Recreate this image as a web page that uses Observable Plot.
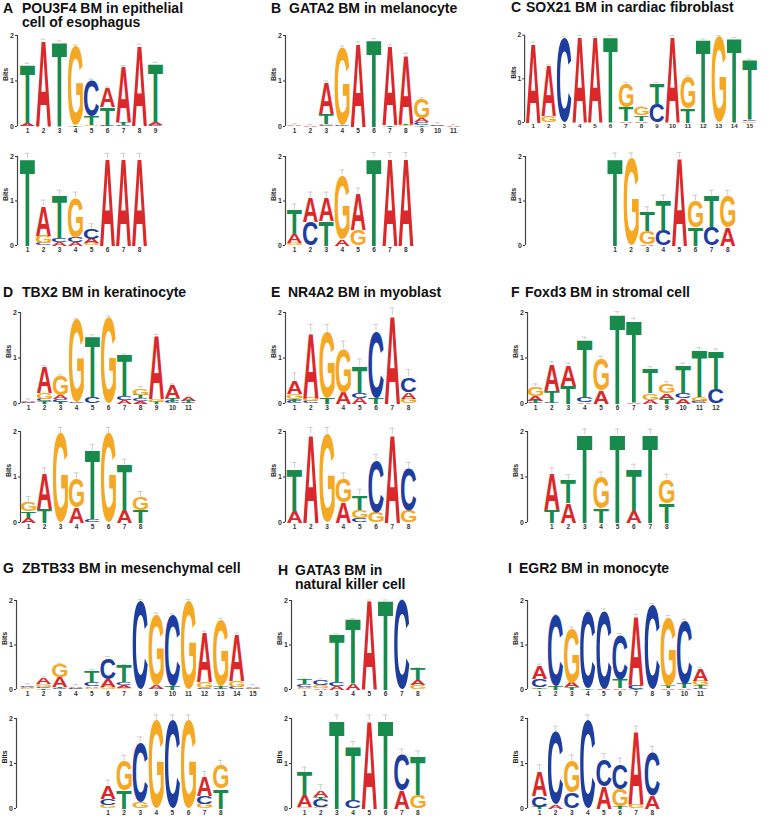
<!DOCTYPE html>
<html><head><meta charset="utf-8">
<script src="https://cdn.jsdelivr.net/npm/d3@7"></script>
<script src="https://cdn.jsdelivr.net/npm/@observablehq/plot@0.6"></script>
<style>
html,body{margin:0;padding:0;background:#fff}
body{width:769px;height:817px;position:relative;overflow:hidden;font-family:"Liberation Sans",Arial,sans-serif}
.t{position:absolute;font-weight:bold;font-size:14px;line-height:14px;color:#111;white-space:nowrap}
.p{position:absolute}
</style></head><body>
<script>
// ---------- data: columns bottom->top as [letter, bits] ----------
const letters = ["A","C","G","T"];
const letterColors = ["#db282b","#1d3e9e","#f4a823","#178a4c"];

const A_top = [[["C",.02],["A",.06],["T",1.28]],[["A",1.89]],[["T",1.85]],[["T",.02],["G",1.74]],[["G",.03],["T",.2],["C",.78]],[["C",.02],["T",.4],["A",.42]],[["C",.03],["T",.06],["A",1.22]],[["G",.01],["A",1.77]],[["C",.03],["A",.06],["T",1.29]]];
const A_bot = [[["T",1.95]],[["C",.05],["G",.17],["A",.68]],[["A",.08],["C",.08],["T",.96]],[["A",.08],["C",.1],["G",.9]],[["G",.05],["A",.1],["C",.22]],[["A",1.95]],[["A",1.95]],[["A",1.95]]];
const B_top = [[["G",.01],["A",.02]],[["A",.012]],[["C",.03],["G",.03],["T",.22],["A",.69]],[["C",.02],["G",1.72]],[["A",1.83]],[["T",1.9]],[["T",.03],["A",1.73]],[["G",.03],["T",.03],["A",1.52]],[["T",.03],["C",.06],["A",.08],["G",.43]],[["C",.02],["A",.03]],[["A",.012]]];
const B_bot = [[["G",.05],["A",.2],["T",.55]],[["C",.52],["A",.55]],[["T",.56],["A",.51]],[["A",.15],["G",1.42]],[["G",.34],["A",.82]],[["T",1.96]],[["A",1.96]],[["A",1.96]]];
const C_top = [[["A",1.82]],[["G",.14],["A",1.16]],[["C",1.94]],[["A",1.97]],[["A",1.95]],[["T",1.97]],[["A",.03],["T",.32],["G",.55]],[["A",.04],["T",.13],["G",.18]],[["C",.42],["T",.48]],[["A",1.97]],[["T",.33],["G",.72]],[["T",1.89]],[["G",1.97]],[["T",1.93]],[["G",.03],["C",.04],["T",1.36]]];
const C_bot = [[["T",1.96]],[["G",1.96]],[["A",.04],["G",.29],["T",.42]],[["C",.34],["T",.67]],[["A",1.97]],[["T",.4],["G",.6]],[["C",.41],["T",.71]],[["A",.41],["G",.71]]];
const D_top = [[["G",.02],["C",.02],["A",.03]],[["T",.05],["C",.04],["G",.14],["A",.57]],[["T",.04],["C",.06],["A",.08],["G",.42]],[["C",.02],["G",1.81]],[["C",.15],["T",1.33]],[["G",1.89]],[["A",.08],["C",.08],["T",.9]],[["A",.05],["C",.06],["T",.08],["G",.15]],[["T",.04],["G",.05],["A",1.4]],[["C",.04],["T",.08],["A",.28]],[["C",.02],["T",.04],["A",.07]]];
const D_bot = [[["A",.1],["T",.15],["G",.19]],[["T",.3],["A",.77]],[["G",1.96]],[["A",.33],["G",.63]],[["G",.02],["C",.05],["T",1.52]],[["G",1.96]],[["A",.27],["T",.99]],[["T",.27],["G",.28]]];
const E_top = [[["C",.04],["T",.05],["G",.12],["A",.29]],[["C",.06],["G",.07],["A",1.44]],[["T",.13],["G",1.44]],[["A",.24],["G",.96]],[["A",.13],["C",.1],["T",.58]],[["T",.13],["C",1.44]],[["A",1.93]],[["G",.1],["A",.15],["C",.33]]];
const E_bot = [[["A",.24],["T",.94]],[["A",1.95]],[["G",1.95]],[["A",.44],["G",.51]],[["C",.09],["G",.18],["T",.32]],[["G",.22],["C",1.14]],[["A",1.93]],[["G",.26],["C",.92]]];
const F_top = [[["C",.02],["T",.04],["A",.1],["G",.21]],[["C",.02],["T",.26],["A",.58]],[["T",.39],["A",.44]],[["A",.03],["C",.1],["T",1.27]],[["A",.28],["G",.7]],[["T",1.96]],[["A",.02],["T",1.8]],[["A",.08],["G",.14],["T",.53]],[["T",.1],["A",.12],["G",.2]],[["A",.11],["C",.12],["T",.6]],[["C",.04],["G",.1],["T",1.03]],[["C",.32],["T",.82]]];
const F_bot = [[["T",.27],["A",.81]],[["A",.42],["T",.51]],[["T",1.93]],[["T",.31],["G",.68]],[["T",1.93]],[["A",.26],["T",.9]],[["T",1.93]],[["T",.42],["G",.52]]];
const G_top = [[["G",.03],["A",.03],["C",.04]],[["T",.03],["C",.03],["G",.06],["A",.13]],[["C",.04],["T",.02],["A",.22],["G",.28]],[["G",.02],["C",.02],["A",.04]],[["G",.04],["A",.03],["C",.08],["T",.27]],[["G",.05],["A",.18],["C",.48]],[["G",.03],["A",.06],["C",.07],["T",.37]],[["C",1.99]],[["C",.02],["A",.09],["G",1.58]],[["T",.07],["C",1.6]],[["G",1.99]],[["C",.03],["G",.14],["A",1.11]],[["C",.02],["T",.06],["G",1.49]],[["C",.05],["G",.14],["A",1.05]],[["C",.02],["G",.02],["A",.04]]];
const G_bot = [[["G",.08],["C",.13],["A",.3]],[["T",.4],["G",.66]],[["G",.15],["C",1.32]],[["G",1.96]],[["C",1.96]],[["G",1.96]],[["G",.1],["C",.18],["A",.42]],[["T",.44],["G",.51]]];
const H_top = [[["G",.03],["A",.03],["C",.06],["T",.11]],[["A",.04],["G",.07],["C",.12]],[["A",.07],["C",.09],["T",1.08]],[["A",.13],["T",1.45]],[["A",2.0]],[["T",2.0]],[["C",2.0]],[["G",.1],["A",.12],["T",.26]]];
const H_bot = [[["G",.03],["A",.26],["T",.51]],[["G",.03],["C",.17],["T",.06],["A",.15]],[["T",1.96]],[["C",.18],["T",1.19]],[["A",1.96]],[["T",1.96]],[["A",.41],["C",.79]],[["G",.3],["T",.86]]];
const I_top = [[["G",.02],["T",.04],["C",.18],["A",.3]],[["T",.07],["C",1.59]],[["T",.05],["A",.11],["G",1.21]],[["T",.03],["C",1.72]],[["A",.02],["C",1.76]],[["A",.03],["T",.19],["C",1.01]],[["T",.02],["C",.08],["A",1.56]],[["C",1.9]],[["A",.03],["T",.06],["G",1.54]],[["A",.03],["T",.1],["C",1.42]],[["C",.03],["T",.06],["G",.11],["A",.27]]];
const I_bot = [[["T",.04],["C",.24],["A",.56]],[["A",.09],["C",1.61]],[["C",.35],["G",.71]],[["C",1.95]],[["A",.5],["C",.59]],[["T",.06],["G",.37],["C",.56]],[["G",.09],["A",1.61]],[["A",.28],["C",.97]]];

// panel labels & titles
const panelLabels = ["A","B","C","D","E","F","G","H","I"];
const panelTitles = [
  ["POU3F4 BM in epithelial","cell of esophagus"],
  ["GATA2 BM in melanocyte"],
  ["SOX21 BM in cardiac fibroblast"],
  ["TBX2 BM in keratinocyte"],
  ["NR4A2 BM in myoblast"],
  ["Foxd3 BM in stromal cell"],
  ["ZBTB33 BM in mesenchymal cell"],
  ["GATA3 BM in","natural killer cell"],
  ["EGR2 BM in monocyte"]
];
// logos per panel (top, bottom), alignment offset of the bottom logo, small-sample error heights
const topLogos = [A_top,B_top,C_top,D_top,E_top,F_top,G_top,H_top,I_top];
const botLogos = [A_bot,B_bot,C_bot,D_bot,E_bot,F_bot,G_bot,H_bot,I_bot];
const botOffsets = [0,0,5,0,0,1,5,0,0];
const topErr = [.03,.03,.02,.03,.17,.06,.03,.01,.03];
const botErr = [.12,.13,.12,.13,.14,.12,.12,.12,.13];

// ---------- layout (pixels) ----------
const layout = [
  {lx:3,  tx:22,  ty:1,   axis:17,  pos1:27,  sp:16.0, row:0},
  {lx:271,tx:289, ty:1,   axis:285, pos1:294, sp:15.9, row:0},
  {lx:511,tx:526, ty:0,   axis:525, pos1:534, sp:16.1, row:0},
  {lx:3,  tx:22,  ty:285, axis:20,  pos1:28,  sp:16.0, row:1},
  {lx:271,tx:288, ty:285, axis:285, pos1:294, sp:16.3, row:1},
  {lx:511,tx:525, ty:285, axis:527, pos1:535, sp:16.4, row:1},
  {lx:3,  tx:22,  ty:561, axis:16,  pos1:27,  sp:16.1, row:2},
  {lx:278,tx:295, ty:563, axis:291, pos1:304, sp:16.2, row:2},
  {lx:508,tx:519, ty:561, axis:527, pos1:539, sp:16.1, row:2}
];
const rowsY = [
  {top:[35,126], bot:[156,245]},
  {top:[312,403], bot:[431,522]},
  {top:[600,689], bot:[718,808]}
];

// ---------- glyph metrics for stretching letters ----------
const FONT = "Liberation Sans";
const ctx = document.createElement("canvas").getContext("2d");
ctx.font = `bold 100px '${FONT}'`;
ctx.textAlign = "left"; ctx.textBaseline = "alphabetic";
const metrics = {};
for (const L of letters) {
  const m = ctx.measureText(L);
  metrics[L] = {l: m.actualBoundingBoxLeft, r: m.actualBoundingBoxRight, a: m.actualBoundingBoxAscent, d: m.actualBoundingBoxDescent};
}

function drawLogo(cols, offset, err, cfg, yTop, yZero) {
  const rows = [];
  cols.forEach((col, i) => {
    let base = 0;
    col.forEach(([letter, h]) => { rows.push({pos: i + 1 + offset, letter, y1: base, y2: base + h}); base += h; });
  });
  const tops = cols.map((col, i) => { const t = d3.sum(col, d => d[1]); return {pos: i + 1 + offset, top: t, cap: t + err}; });
  const labels = cols.map((c, i) => ({pos: i + 1 + offset, label: String(i + 1)}));
  const ML = 22, MR = 2, MT = 8, MB = 12;
  const slots = cols.length + offset;
  const W = Math.round(ML + (cfg.pos1 - cfg.axis) + slots * cfg.sp + 4);
  const d0 = 1 - (cfg.pos1 - cfg.axis) / cfg.sp;
  const H = (yZero - yTop) + MT + MB;
  const svg = Plot.plot({
    width: W, height: H, marginLeft: ML, marginRight: MR, marginTop: MT, marginBottom: MB,
    x: {type: "linear", domain: [d0, d0 + (W - ML - MR) / cfg.sp], axis: null},
    y: {domain: [0, 2], ticks: 2, tickSize: 2, tickPadding: 1.5, tickFormat: "d", label: null},
    color: {domain: letters, range: letterColors},
    style: {background: "none", overflow: "visible", fontFamily: `'${FONT}', Arial, sans-serif`, fontWeight: "bold", fontSize: "7px", color: "#333"},
    marks: [
      Plot.ruleX([d0], {y1: 0, y2: 2, stroke: "#444", strokeWidth: 1.2}),
      Plot.ruleX(tops, {x: "pos", y1: "top", y2: "cap", stroke: "#c4c4c4", strokeWidth: 0.8}),
      Plot.ruleY(tops, {y: "cap", x1: d => d.pos - 0.15, x2: d => d.pos + 0.15, stroke: "#c4c4c4", strokeWidth: 0.8}),
      Plot.text(rows, {x: "pos", y: "y1", text: "letter", fill: "letter", ariaLabel: (d, i) => "letter " + i}),
      Plot.text(labels, {x: "pos", text: "label", frameAnchor: "bottom", dy: 6, fontSize: 6.5, fill: "#333"}),
      Plot.text(["Bits"], {text: d => d, frameAnchor: "left", rotate: -90, dx: -11.5, fontSize: 7, fill: "#222"})
    ]
  });
  // stretch each letter into its stack box using the plot's own scales
  const xs = svg.scale("x"), ys = svg.scale("y");
  const bw = cfg.sp * 0.94;
  let els = Array.from(svg.querySelectorAll('text[aria-label^="letter "]'));
  els.forEach((el, k) => {
    const idx = +el.getAttribute("aria-label").slice(7);
    const d = rows[isNaN(idx) ? k : idx];
    const cx = xs.apply(d.pos), yb = ys.apply(d.y1), yt = ys.apply(d.y2);
    const hh = yb - yt;
    if (!(hh > 0.05)) { el.remove(); return; }
    const m = metrics[d.letter];
    const sx = bw / (m.l + m.r), sy = hh / (m.a + m.d);
    el.removeAttribute("x"); el.removeAttribute("y"); el.removeAttribute("dy");
    el.setAttribute("text-anchor", "start");
    el.setAttribute("font-size", "100");
    el.setAttribute("font-weight", "bold");
    el.setAttribute("font-family", FONT);
    el.setAttribute("transform", `translate(${cx - bw / 2},${yb}) scale(${sx},${sy}) translate(${m.l},${-m.d})`);
  });
  const wrap = document.createElement("div");
  wrap.className = "p";
  wrap.style.left = (cfg.axis - ML) + "px";
  wrap.style.top = (yTop - MT) + "px";
  wrap.appendChild(svg);
  document.body.appendChild(wrap);
}

layout.forEach((cfg, p) => {
  const lab = document.createElement("div");
  lab.className = "t"; lab.style.left = cfg.lx + "px"; lab.style.top = cfg.ty + "px";
  lab.textContent = panelLabels[p];
  document.body.appendChild(lab);
  const tt = document.createElement("div");
  tt.className = "t"; tt.style.left = cfg.tx + "px"; tt.style.top = cfg.ty + "px";
  tt.innerHTML = panelTitles[p].map(s => s.replace(/&/g, "&amp;")).join("<br>");
  document.body.appendChild(tt);
  const ry = rowsY[cfg.row];
  drawLogo(topLogos[p], 0, topErr[p], cfg, ry.top[0], ry.top[1]);
  drawLogo(botLogos[p], botOffsets[p], botErr[p], cfg, ry.bot[0], ry.bot[1]);
});
</script>
</body></html>
